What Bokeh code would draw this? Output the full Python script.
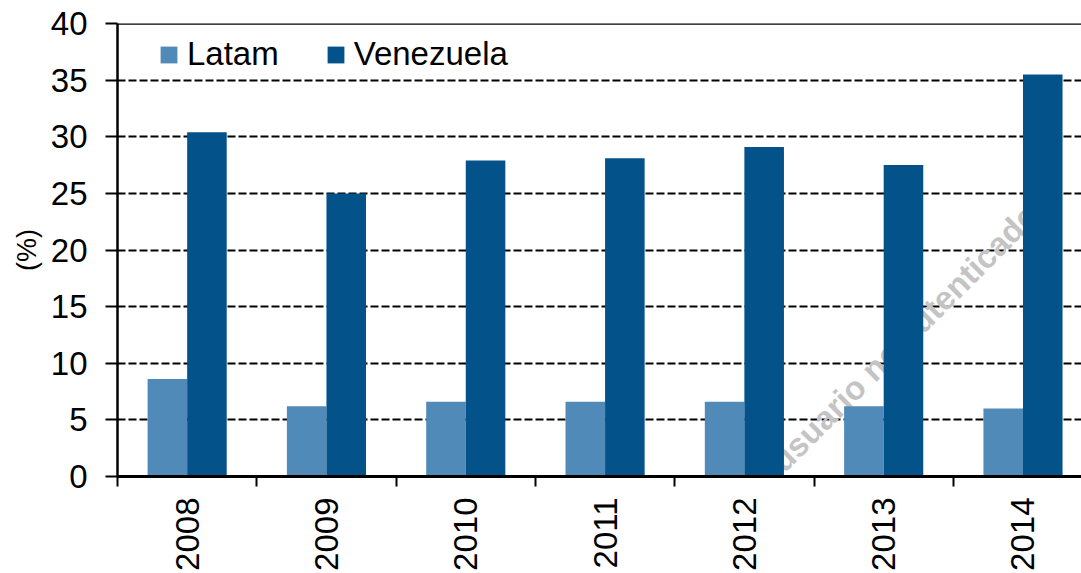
import numpy as np
from bokeh.plotting import figure
from bokeh.models import (ColumnDataSource, Range1d, FixedTicker, Span, Label,
                          Legend, LegendItem)
from bokeh.transform import dodge
from bokeh.embed import file_html
from bokeh.resources import INLINE

years = ["2008", "2009", "2010", "2011", "2012", "2013", "2014"]
latam = [8.6, 6.2, 6.6, 6.6, 6.6, 6.2, 6.0]
venezuela = [30.4, 25.0, 27.9, 28.1, 29.1, 27.5, 35.5]
y_ticks = [0, 5, 10, 15, 20, 25, 30, 35, 40]

FONT = "Liberation Sans"
LATAM_C = "#508ab8"
VEN_C = "#035289"

idx = np.arange(len(years))
src = ColumnDataSource(dict(x=idx + 0.5, latam=latam, venezuela=venezuela, year=years))

p = figure(width=1081, height=573, output_backend="svg", toolbar_location=None,
           x_range=Range1d(0, 6.92), y_range=Range1d(0, 40),
           min_border_left=117, min_border_right=0, min_border_top=23,
           min_border_bottom=97)
p.outline_line_color = None
p.background_fill_color = "white"
p.border_fill_color = "white"

# watermark (behind bars)
wm = Label(x=6.57, y=23.6, text="usuario no autenticado",
           angle=45, angle_units="deg", text_align="right",
           text_baseline="alphabetic", text_font=FONT, text_font_style="bold",
           text_font_size="33px", text_color="#c4c4c4", level="underlay")
p.add_layout(wm)

bw = 0.284
r1 = p.vbar(x=dodge("x", -bw / 2, range=p.x_range), top="latam", width=bw,
            source=src, fill_color=LATAM_C, line_color=None)
r2 = p.vbar(x=dodge("x", bw / 2, range=p.x_range), top="venezuela", width=bw,
            source=src, fill_color=VEN_C, line_color=None)

# top border at 40
p.add_layout(Span(location=40, dimension="width", line_color="black", line_width=2.5))

# grids
p.xgrid.visible = False
p.ygrid.ticker = FixedTicker(ticks=y_ticks)
p.ygrid.grid_line_color = "black"
p.ygrid.grid_line_dash = "8 3"
p.ygrid.grid_line_width = 1.8

# y axis
ya = p.yaxis[0]
ya.ticker = FixedTicker(ticks=y_ticks)
ya.axis_line_color = "black"
ya.axis_line_width = 2.5
ya.major_tick_line_color = "black"
ya.major_tick_line_width = 2
ya.major_tick_out = 12
ya.major_tick_in = 0
ya.minor_tick_line_color = None
ya.major_label_standoff = 18
ya.major_label_text_font = FONT
ya.major_label_text_font_size = "33px"
ya.major_label_text_color = "black"
ya.axis_label = "(%)"
ya.axis_label_text_font = FONT
ya.axis_label_text_font_size = "27px"
ya.axis_label_text_font_style = "normal"
ya.axis_label_text_color = "black"
ya.axis_label_standoff = 6

# x axis
xa = p.xaxis[0]
xa.ticker = FixedTicker(ticks=list(idx + 0.5), minor_ticks=list(range(len(years) + 1)))
xa.major_label_overrides = {float(i + 0.5): y for i, y in enumerate(years)}
xa.axis_line_color = "black"
xa.axis_line_width = 3
xa.major_tick_line_color = None
xa.major_tick_out = 0
xa.major_tick_in = 0
xa.minor_tick_line_color = "black"
xa.minor_tick_line_width = 2
xa.minor_tick_out = 10
xa.minor_tick_in = 0
xa.major_label_orientation = np.pi / 2
xa.major_label_standoff = 11
xa.major_label_text_font = FONT
xa.major_label_text_font_size = "33px"
xa.major_label_text_color = "black"

legend = Legend(items=[LegendItem(label="Latam", renderers=[r1]),
                       LegendItem(label="Venezuela", renderers=[r2])],
                orientation="horizontal", location=(41, 403))
legend.padding = 0
legend.margin = 0
legend.spacing = 46
legend.glyph_width = 21
legend.glyph_height = 21
legend.label_standoff = 8
legend.label_text_font = FONT
legend.label_text_font_size = "33px"
legend.label_text_color = "black"
legend.label_height = 34
legend.background_fill_alpha = 0
legend.border_line_color = None
p.add_layout(legend, "center")

open("out.html", "w").write(file_html(p, INLINE))
